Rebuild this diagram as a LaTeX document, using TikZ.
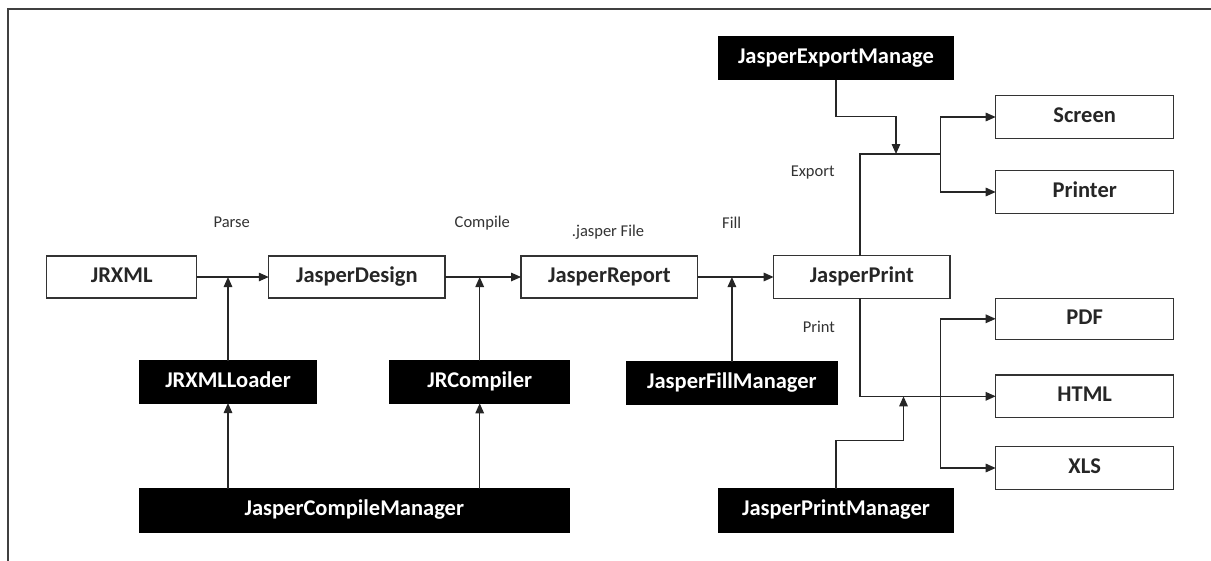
\documentclass[tikz,border=0pt]{standalone}
\usepackage{fontspec}
\setmainfont{Carlito}
\usetikzlibrary{arrows.meta}

\tikzset{
  wire/.style={line width=1.4pt, draw=black!85},
  arr/.style={wire, -{Triangle[length=10pt,width=8.5pt]}},
  boxbase/.style={rectangle, inner sep=0pt, outer sep=0pt, line width=1.4pt,
    font=\fontsize{22.5}{22.5}\selectfont\bfseries, text height=1.05em, text depth=0pt},
  wbox/.style={boxbase, draw=black!80, fill=white, text=black!85},
  bbox/.style={boxbase, draw=black, fill=black, text=white},
  lbl/.style={font=\fontsize{16.5}{16.5}\selectfont, text=black!80, inner sep=0pt}
}

\begin{document}
\begin{tikzpicture}[x=1pt,y=-1pt]
\useasboundingbox (0,0) rectangle (1211,560);
\clip (0,0) rectangle (1211,560);
\fill[white] (0,0) rectangle (1211,560);

% outer frame
\draw[line width=1.8pt, draw=black!75] (8.3,9.3) rectangle (1230,580);

% main chain
\node[wbox, minimum width=150pt, minimum height=42pt] (jrxml)   at (121.7,277) {JRXML};
\node[wbox, minimum width=176.3pt, minimum height=42pt] (design) at (356.9,277) {JasperDesign};
\node[wbox, minimum width=176.7pt, minimum height=42pt] (report) at (609.4,277) {JasperReport};
\node[wbox, minimum width=176.3pt, minimum height=42.5pt] (print) at (861.8,277) {JasperPrint};

% managers and tools
\node[bbox, minimum width=177.4pt, minimum height=42pt] (loader)   at (228,382) {JRXMLLoader};
\node[bbox, minimum width=179.3pt, minimum height=42.6pt] (compiler) at (479.7,382) {JRCompiler};
\node[bbox, minimum width=430pt, minimum height=43.5pt] (cmgr)    at (354.3,510.4) {JasperCompileManager};
\node[bbox, minimum width=210.3pt, minimum height=42.6pt] (fmgr)   at (731.9,383) {JasperFillManager};
\node[bbox, minimum width=235.3pt, minimum height=43.6pt] (pmgr)   at (836,510.5) {JasperPrintManager};
\node[bbox, minimum width=235.3pt, minimum height=42.5pt] (emgr)   at (836,58.3) {JasperExportManage};

% outputs
\node[wbox, minimum width=178pt, minimum height=42.6pt] (screen)  at (1084.7,117) {Screen};
\node[wbox, minimum width=178pt, minimum height=42.6pt] (printer) at (1084.7,192) {Printer};
\node[wbox, minimum width=178pt, minimum height=41pt]   (pdf)     at (1084.7,318.8) {PDF};
\node[wbox, minimum width=178pt, minimum height=42.7pt] (html)    at (1084.7,396.3) {HTML};
\node[wbox, minimum width=178pt, minimum height=42.6pt] (xls)     at (1084.7,468) {XLS};

% step labels
\node[lbl] (lparse)   at (231.7,222.7) {Parse};
\node[lbl] (lcompile) at (482.3,222.7) {Compile};
\node[lbl] (ljasper)  at (608,231.7) {.jasper File};
\node[lbl] (lfill)    at (731.7,222.7) {Fill};
\node[lbl] (lexport)  at (812.7,172.7) {Export};
\node[lbl] (lprint)   at (818.8,326.7) {Print};

% chain arrows
\draw[arr] (jrxml.east) -- (design.west);
\draw[arr] (design.east) -- (report.west);
\draw[arr] (report.east) -- (print.west);

% tools feeding the chain
\draw[arr] (loader.north) -- (loader.north |- jrxml.east);
\draw[arr] (compiler.north) -- (compiler.north |- design.east);
\draw[arr] (fmgr.north) -- (fmgr.north |- report.east);
\draw[arr] (cmgr.north -| loader.south) -- (loader.south);
\draw[arr] (cmgr.north -| compiler.south) -- (compiler.south);

% export branch
\coordinate (pup) at (860,256);
\coordinate (ejoin) at (896,154);
\coordinate (ebus) at (940.7,154);
\draw[wire] (pup) -- (860,154) -- (ebus);
\draw[arr] (emgr.south) -- (836,116.3) -- (896,116.3) -- (ejoin);
\draw[arr] (ebus) |- (screen.west);
\draw[arr] (ebus) |- (printer.west);

% print branch
\coordinate (pdown) at (860,298.3);
\coordinate (pbus) at (940.7,396.3);
\draw[arr] (pdown) |- (html.west);
\draw[arr] (pbus) |- (pdf.west);
\draw[arr] (pbus) |- (xls.west);
\draw[arr] (pmgr.north) -- (836,440.7) -- (903.5,440.7) -- (903.5,396.3);

\end{tikzpicture}
\end{document}
